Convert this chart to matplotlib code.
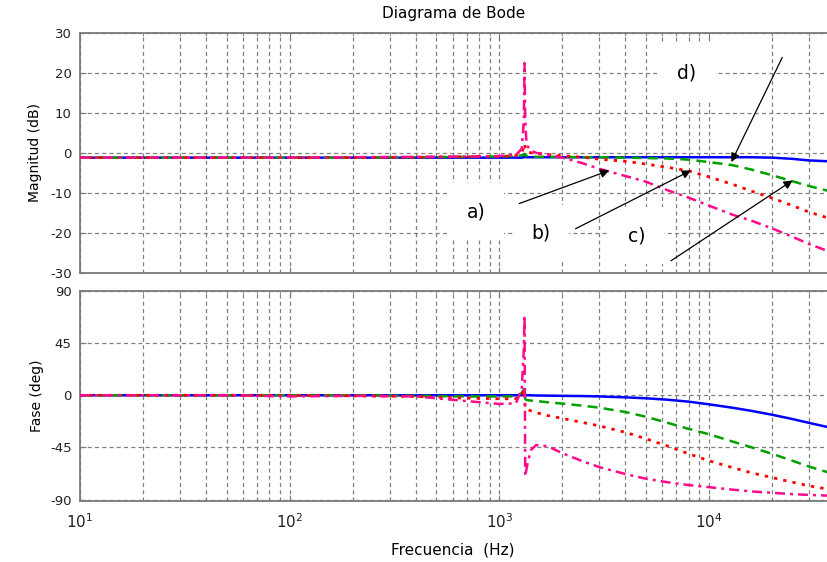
import matplotlib
matplotlib.use("Agg")
import matplotlib.pyplot as plt
import numpy as np

plt.rcParams['font.family'] = ['DejaVu Sans']
plt.rcParams['axes.unicode_minus'] = False

# ---------------- data ----------------
freq = [10, 50, 100, 200, 400, 700, 1000, 1200, 1280, 1310, 1320, 1330, 1345, 1370,
        1420, 1500, 1700, 2000, 2500, 3000, 4000, 5000, 6300, 8000, 10000, 13000,
        16000, 20000, 25000, 30000, 37000]

# magnitude (dB)
mag_d = [-1.2, -1.2, -1.2, -1.2, -1.2, -1.2, -1.2, -1.2, -1.2, -1.1, -1.0, -1.0, -1.1, -1.1,
         -1.1, -1.1, -1.1, -1.1, -1.1, -1.1, -1.1, -1.1, -1.1, -1.1, -1.1, -1.1,
         -1.1, -1.2, -1.5, -1.9, -2.1]
mag_c = [-1.2, -1.2, -1.2, -1.2, -1.1, -1.0, -0.9, -0.8, -0.6, -0.4, -0.3, -0.5, -0.7, -0.8,
         -0.9, -1.0, -1.0, -1.0, -1.1, -1.1, -1.2, -1.3, -1.4, -1.7, -2.3, -3.1,
         -4.2, -5.6, -7.1, -8.3, -9.5]
mag_b = [-1.2, -1.2, -1.2, -1.2, -1.1, -1.0, -0.9, -0.7, 0.0, 1.5, 2.3, 1.2, 0.5, 0.2,
         0.0, -0.2, -0.4, -0.7, -1.1, -1.6, -2.1, -2.8, -3.6, -4.5, -6.0, -7.9,
         -9.6, -11.3, -13.2, -14.8, -16.3]
mag_a = [-1.2, -1.2, -1.2, -1.1, -1.0, -0.9, -0.8, -0.5, 1.0, 8.0, 22.5, 8.0, 3.5, 1.5,
         0.5, 0.0, -0.5, -1.2, -2.6, -4.0, -5.8, -7.2, -9.3, -11.2, -13.2, -15.5,
         -17.0, -18.9, -21.0, -22.8, -24.6]

# phase (deg)
ph_d = [0, 0, 0, 0, 0, 0, 0, 0, 0, 0.5, 1.5, 0.5, 0.0, 0.0,
        0.0, -0.2, -0.3, -0.5, -0.7, -1.0, -1.8, -2.6, -3.8, -5.5, -7.8, -10.8,
        -13.5, -16.8, -20.5, -23.8, -27.5]
ph_c = [0, 0, 0, 0, -0.5, -1.0, -1.0, -1.0, 2.0, 5.0, 5.0, -3.0, -4.0, -4.3,
        -4.6, -5.0, -6.0, -7.2, -9.0, -10.7, -14.5, -18.5, -23.6, -29.0, -33.6, -40.0,
        -45.0, -50.5, -56.5, -61.5, -66.5]
ph_b = [0, 0, 0, -0.5, -1.0, -2.5, -3.0, -3.0, 0.0, 5.0, 3.0, -12.0, -12.0, -12.5,
        -13.5, -15.0, -17.5, -20.0, -23.5, -26.4, -32.0, -37.5, -43.6, -50.5, -56.5, -62.5,
        -67.0, -71.0, -75.0, -78.2, -81.0]
ph_a = [0, 0, -1.0, -0.5, -1.0, -5.0, -7.5, -7.0, 5.0, 40.0, 69.0, -70.0, -65.0, -57.0,
        -47.0, -43.0, -44.0, -50.0, -57.0, -62.0, -68.0, -72.0, -75.0, -77.5, -79.3, -81.5,
        -83.0, -84.2, -85.3, -86.0, -86.6]

mag_ticks = [-30, -20, -10, 0, 10, 20, 30]
ph_ticks = [-90, -45, 0, 45, 90]
labels = ['a)', 'b)', 'c)', 'd)']

# ---------------- figure ----------------
W, H = 828, 562
fig = plt.figure(figsize=(W / 100, H / 100), dpi=100)

def px_axes(x0, y0, x1, y1):
    return fig.add_axes([x0 / W, 1 - y1 / H, (x1 - x0) / W, (y1 - y0) / H])

ax1 = px_axes(80, 33, 828, 272.7)
ax2 = px_axes(80, 291, 828, 500.7)

blue = '#0000FF'
green = '#00A000'
red = '#FF0000'
pink = '#FF0A8C'

styles = [
    (blue, '-', 1.8),
    (green, (0, (4, 2.5)), 1.8),
    (red, (0, (1.2, 2.2)), 2.0),
    (pink, (0, (4, 2, 1.2, 2)), 1.8),
]

for ax, series in ((ax1, [mag_d, mag_c, mag_b, mag_a]), (ax2, [ph_d, ph_c, ph_b, ph_a])):
    for vals, (c, ls, lw) in zip(series, styles):
        ax.plot(freq, vals, color=c, linestyle=ls, linewidth=lw, zorder=3)

gridc = '#808080'
for ax in (ax1, ax2):
    ax.set_xscale('log')
    ax.set_xlim(10, 3.7e4)
    ax.grid(True, which='major', axis='both', color=gridc, linestyle=(0, (3.2, 2.6)), linewidth=0.9)
    ax.grid(True, which='minor', axis='x', color=gridc, linestyle=(0, (3.2, 2.6)), linewidth=0.9)
    for s in ('left', 'top', 'bottom'):
        ax.spines[s].set_color('#7a7a7a')
        ax.spines[s].set_linewidth(1.3)
    ax.spines['right'].set_visible(False)
    ax.tick_params(which='both', direction='in', top=True, right=False, colors='#7a7a7a',
                   labelcolor='#222222', labelsize=9.5)
    ax.tick_params(which='major', length=4)
    ax.tick_params(which='minor', length=2.5)
    ax.tick_params(axis='y', pad=6)

ax1.set_ylim(-30, 30)
ax1.set_yticks(mag_ticks)
ax1.tick_params(axis='x', which='both', labelbottom=False)
ax1.set_ylabel('Magnitud (dB)', fontsize=10, labelpad=6)
ax1.set_title('Diagrama de Bode', fontsize=11, pad=11)

ax2.set_ylim(-91, 90)
ax2.set_yticks(ph_ticks)
ax2.set_ylabel('Fase (deg)', fontsize=10, labelpad=4)
ax2.tick_params(axis='x', pad=8, labelsize=11)
ax2.set_xlabel('Frecuencia  (Hz)', fontsize=11, labelpad=6)
ax2.xaxis.set_label_coords((453 - 80) / (828 - 80), -0.2)

# annotations (label positions and arrow tails/tips in data coordinates)
label_pos = [(774, -14.7), (1580, -20.1), (4530, -20.7), (7830, 20.1)]
arrow_tail = [(1245, -12.7), (2310, -19.0), (6600, -27.0), (22400, 23.9)]
arrow_tip = [(3350, -4.4), (8220, -4.4), (25100, -6.9), (12800, -2.3)]

for lab, (tx, ty) in zip(labels, label_pos):
    ax1.text(tx, ty, lab, fontsize=13.5, ha='center', va='center', zorder=4,
             bbox=dict(boxstyle='square,pad=1.0', fc='white', ec='none'))
for (x0, y0), (x1, y1) in zip(arrow_tail, arrow_tip):
    ax1.annotate('', xy=(x1, y1), xytext=(x0, y0), zorder=5,
                 arrowprops=dict(arrowstyle='-|>', color='black', lw=0.9,
                                 mutation_scale=13, shrinkA=0, shrinkB=0))

fig.savefig('out.png', dpi=100)
